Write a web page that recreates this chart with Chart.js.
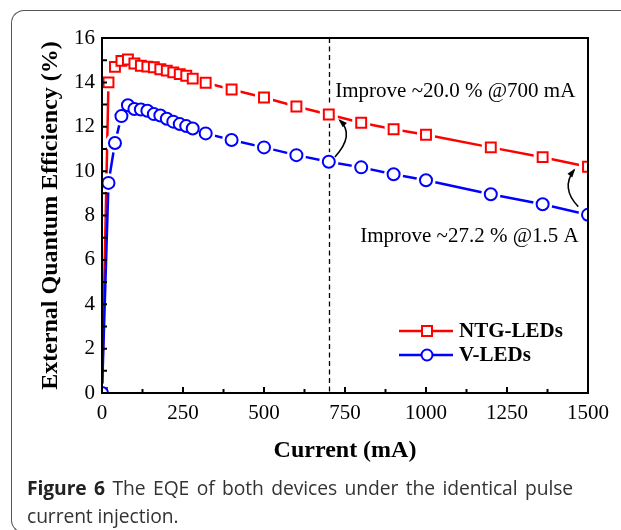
<!DOCTYPE html>
<html><head><meta charset="utf-8">
<script src="https://cdn.jsdelivr.net/npm/chart.js@4.4.0/dist/chart.umd.min.js"></script>
<style>
html,body{margin:0;padding:0;background:#fff;}
body{width:621px;height:530px;position:relative;overflow:hidden;}
#frame{position:absolute;left:11px;top:10px;width:700px;height:523px;border-left:1.5px solid #555;border-top:1.5px solid #555;border-bottom:1.5px solid #555;border-radius:13px 0 0 13px;box-sizing:border-box;}
#wrap{position:absolute;left:0;top:0;width:621px;height:480px;}
#cap{position:absolute;left:27px;top:474px;width:546px;font-family:'Open Sans',sans-serif;font-size:19.3px;line-height:28px;color:#333;text-align:justify;letter-spacing:-0.1px;}
#cap b{color:#222;}
</style></head>
<body>
<div id="frame"></div>
<div id="wrap"><canvas id="c" width="621" height="480"></canvas></div>
<div id="cap"><b>Figure 6</b> The EQE of both devices under the identical pulse current injection.</div>
<script>
// ---- data ----
const currentMA = [0, 20, 40, 60, 80, 100, 120, 140, 160, 180, 200, 220, 240, 260, 280, 320, 400, 500, 600, 700, 800, 900, 1000, 1200, 1360, 1500];
const ntgEQE   = [0, 14.0, 14.7, 14.97, 15.03, 14.85, 14.75, 14.71, 14.68, 14.59, 14.53, 14.45, 14.37, 14.3, 14.17, 13.98, 13.68, 13.32, 12.91, 12.55, 12.18, 11.89, 11.64, 11.07, 10.63, 10.2];
const vEQE     = [0, 9.47, 11.27, 12.48, 12.97, 12.8, 12.78, 12.72, 12.57, 12.51, 12.36, 12.23, 12.12, 12.03, 11.92, 11.7, 11.4, 11.07, 10.72, 10.42, 10.17, 9.86, 9.59, 8.96, 8.51, 8.03];
const seriesNames = ['NTG-LEDs', 'V-LEDs'];
const xTickValues = [0, 250, 500, 750, 1000, 1250, 1500];
const yTickValues = [0, 2, 4, 6, 8, 10, 12, 14, 16];
const xTitle = 'Current (mA)';
const yTitle = 'External Quantum Efficiency (%)';
const annotationTexts = ['Improve ~20.0 % @700 mA', 'Improve ~27.2 % @1.5 A'];
const markedCurrent = 700;

const RED = '#ff0000', BLUE = '#0000ff';
const SERIF = "'Liberation Serif', 'Times New Roman', serif";
Chart.defaults.font.family = SERIF;
Chart.defaults.color = '#000';

const pts = ys => currentMA.map((x, i) => ({x, y: ys[i]}));

const lineDs = (label, ys, color, order) => ({label, data: pts(ys), borderColor: color, borderWidth: 2.5, pointRadius: 0, pointHoverRadius: 0, fill: false, tension: 0, order});
const haloDs = (ys, style, r, order) => ({label: '_halo', data: pts(ys), showLine: false, pointStyle: style, pointRadius: r, pointHoverRadius: r, pointBackgroundColor: '#fff', pointBorderColor: '#fff', pointBorderWidth: 0, order});
const markDs = (ys, style, r, color, order) => ({label: '_mark', data: pts(ys), showLine: false, pointStyle: style, pointRadius: r, pointHoverRadius: r, pointBackgroundColor: '#fff', pointBorderColor: color, pointBorderWidth: 2, order});

function curveArrow(ctx, x, y, p0, c, p1) {
  const P0 = [x.getPixelForValue(p0[0]), y.getPixelForValue(p0[1])];
  const C  = [x.getPixelForValue(c[0]),  y.getPixelForValue(c[1])];
  const P1 = [x.getPixelForValue(p1[0]), y.getPixelForValue(p1[1])];
  ctx.beginPath();
  ctx.moveTo(P0[0], P0[1]);
  ctx.quadraticCurveTo(C[0], C[1], P1[0], P1[1]);
  ctx.lineWidth = 1.5; ctx.strokeStyle = '#000'; ctx.setLineDash([]);
  ctx.stroke();
  const ang = Math.atan2(P1[1] - C[1], P1[0] - C[0]);
  const L = 7, W = 3;
  ctx.beginPath();
  ctx.moveTo(P1[0] + Math.cos(ang) * 2, P1[1] + Math.sin(ang) * 2);
  ctx.lineTo(P1[0] - Math.cos(ang) * L + Math.sin(ang) * W, P1[1] - Math.sin(ang) * L - Math.cos(ang) * W);
  ctx.lineTo(P1[0] - Math.cos(ang) * L - Math.sin(ang) * W, P1[1] - Math.sin(ang) * L + Math.cos(ang) * W);
  ctx.closePath();
  ctx.fillStyle = '#000';
  ctx.fill();
}

const decor = {
  id: 'decor',
  beforeDatasetsDraw(chart) {
    const {ctx, chartArea: a, scales: {x}} = chart;
    ctx.save();
    ctx.beginPath(); ctx.rect(a.left, a.top, a.width, a.height); ctx.clip();
    const px = Math.round(x.getPixelForValue(markedCurrent)) + 0.5;
    ctx.setLineDash([5, 3.5]); ctx.lineWidth = 1.3; ctx.strokeStyle = '#000';
    ctx.beginPath(); ctx.moveTo(px, a.top); ctx.lineTo(px, a.bottom); ctx.stroke();
    ctx.restore();
  },
  afterDatasetsDraw(chart) {
    const {ctx, chartArea: a, scales: {x, y}} = chart;
    ctx.save();
    // plot frame
    ctx.setLineDash([]);
    ctx.lineWidth = 2; ctx.strokeStyle = '#000';
    ctx.strokeRect(a.left, a.top, a.width, a.height);
    // inward ticks
    ctx.lineWidth = 2;
    ctx.beginPath();
    for (let v = x.min; v <= x.max; v += 125) {
      const p = x.getPixelForValue(v);
      const len = (v % 250 === 0) ? 6 : 4;
      ctx.moveTo(p, a.bottom); ctx.lineTo(p, a.bottom - len);
    }
    for (let v = y.min; v <= y.max; v += 1) {
      const p = y.getPixelForValue(v);
      ctx.moveTo(a.left, p); ctx.lineTo(a.left + 5, p);
    }
    ctx.stroke();
    // arrows
    curveArrow(ctx, x, y, [719, 10.64], [781, 11.63], [734, 12.29]);
    curveArrow(ctx, x, y, [1470, 8.40], [1415, 9.23], [1457, 10.05]);
    // annotation text
    ctx.fillStyle = '#000';
    ctx.font = "21px " + SERIF;
    ctx.textAlign = 'left'; ctx.textBaseline = 'middle';
    ctx.fillText(annotationTexts[0], x.getPixelForValue(720), y.getPixelForValue(13.58));
    ctx.fillText(annotationTexts[1], x.getPixelForValue(797), y.getPixelForValue(7.05));
    // legend
    const items = [
      {name: chart.data.datasets[0].label, color: chart.data.datasets[0].borderColor, style: 'rect'},
      {name: chart.data.datasets[1].label, color: chart.data.datasets[1].borderColor, style: 'circle'}
    ];
    items.forEach((it, i) => {
      const ly = a.bottom - 62 + i * 24;
      const lx0 = a.right - 189, lx1 = a.right - 135, mx = a.right - 161;
      ctx.lineWidth = 2.5; ctx.strokeStyle = it.color;
      ctx.beginPath(); ctx.moveTo(lx0, ly); ctx.lineTo(lx1, ly); ctx.stroke();
      ctx.lineWidth = 2; ctx.fillStyle = '#fff';
      ctx.beginPath();
      if (it.style === 'rect') ctx.rect(mx - 5, ly - 5, 10, 10);
      else ctx.arc(mx, ly, 5.5, 0, Math.PI * 2);
      ctx.fill(); ctx.stroke();
      ctx.fillStyle = '#000';
      ctx.font = "bold 21px " + SERIF;
      ctx.textAlign = 'left'; ctx.textBaseline = 'middle';
      ctx.fillText(it.name, a.right - 129, ly + 1);
    });
    ctx.restore();
  }
};

new Chart(document.getElementById('c'), {
  type: 'line',
  data: {
    datasets: [
      lineDs(seriesNames[0], ntgEQE, RED, 10),
      lineDs(seriesNames[1], vEQE, BLUE, 9),
      haloDs(ntgEQE, 'rect', 12.7, 6),
      haloDs(vEQE, 'circle', 9.7, 5),
      markDs(ntgEQE, 'rect', 7, RED, 2),
      markDs(vEQE, 'circle', 6, BLUE, 1)
    ]
  },
  options: {
    responsive: false,
    animation: false,
    events: [],
    layout: {padding: {left: 0, right: 33, top: 38, bottom: 0}},
    plugins: {legend: {display: false}, tooltip: {enabled: false}},
    scales: {
      x: {
        type: 'linear', min: 0, max: 1500,
        afterBuildTicks: s => { s.ticks = xTickValues.map(v => ({value: v})); },
        afterFit: s => { s.height = 87; },
        grid: {display: false, drawTicks: false},
        border: {display: false},
        ticks: {font: {size: 21}, color: '#000', padding: 8, maxRotation: 0, autoSkip: false, callback: v => String(v)},
        title: {display: true, text: xTitle, font: {size: 24, weight: 'bold'}, color: '#000', padding: {top: 0, bottom: 15}}
      },
      y: {
        type: 'linear', min: 0, max: 16,
        afterBuildTicks: s => { s.ticks = yTickValues.map(v => ({value: v})); },
        afterFit: s => { s.width = 102; },
        grid: {display: false, drawTicks: false},
        border: {display: false},
        ticks: {font: {size: 21}, color: '#000', padding: 7, autoSkip: false, callback: v => String(v)},
        title: {display: true, text: yTitle, font: {size: 24, weight: 'bold'}, color: '#000', padding: {top: 36, bottom: 0}}
      }
    }
  },
  plugins: [decor]
});
</script>
</body></html>
